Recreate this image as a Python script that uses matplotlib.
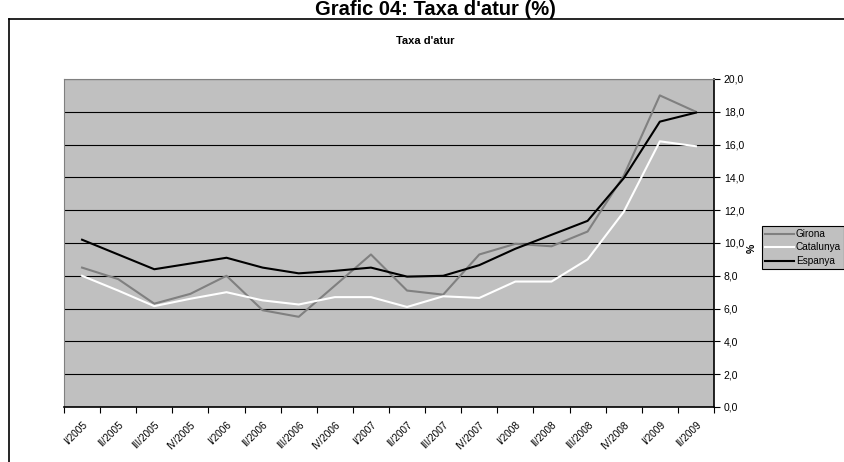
import numpy as np
import matplotlib.pyplot as plt
from matplotlib.lines import Line2D
from matplotlib.ticker import FuncFormatter

plt.rcParams['font.family'] = ['Liberation Sans', 'DejaVu Sans']

# trimestres
trimestres = ['I/2005', 'II/2005', 'III/2005', 'IV/2005',
              'I/2006', 'II/2006', 'III/2006', 'IV/2006',
              'I/2007', 'II/2007', 'III/2007', 'IV/2007',
              'I/2008', 'II/2008', 'III/2008', 'IV/2008',
              'I/2009', 'II/2009']

# taxa d'atur (%)
girona = [8.5, 7.8, 6.3, 6.9, 8.0, 5.9, 5.5, 7.4, 9.3, 7.1, 6.85, 9.3,
          9.95, 9.8, 10.7, 14.1, 19.0, 18.0]
catalunya = [8.0, 7.1, 6.15, 6.6, 7.0, 6.5, 6.25, 6.7, 6.7, 6.1, 6.75, 6.65,
             7.65, 7.65, 9.0, 11.9, 16.2, 15.9]
espanya = [10.2, 9.3, 8.4, 8.75, 9.1, 8.5, 8.15, 8.3, 8.5, 7.95, 8.0, 8.65,
           9.65, 10.5, 11.35, 13.95, 17.4, 17.95]

W, H = 845, 462
fig = plt.figure(figsize=(W / 100, H / 100), dpi=100)

# marc exterior
fig.add_artist(Line2D([9 / W, 1.01], [1 - 19 / H, 1 - 19 / H], color='black', lw=1.2))
fig.add_artist(Line2D([9 / W, 9 / W], [1 - 19 / H, -0.01], color='black', lw=1.2))

fig.text(435 / W, 1 - 15 / H, "Grafic 04: Taxa d'atur (%)", ha='center', va='baseline',
         fontsize=14.5, fontweight='bold')
fig.text(425 / W, 1 - 41 / H, "Taxa d'atur", ha='center', va='center',
         fontsize=8, fontweight='bold')

left, right, top, bottom = 64, 714, 79, 407
ax = fig.add_axes([left / W, 1 - bottom / H, (right - left) / W, (bottom - top) / H])
ax.set_facecolor('#c0c0c0')

x = np.arange(len(trimestres))
ax.plot(x, girona, color='#808080', lw=1.5, label='Girona')
ax.plot(x, catalunya, color='white', lw=1.5, label='Catalunya')
ax.plot(x, espanya, color='black', lw=1.5, label='Espanya')

ax.set_xlim(-0.5, len(trimestres) - 0.5)
ax.set_ylim(0, 20)
ax.set_yticks(np.arange(0, 21, 2))
ax.yaxis.set_major_formatter(FuncFormatter(lambda v, p: ('%.1f' % v).replace('.', ',')))
ax.yaxis.tick_right()
ax.yaxis.set_label_position('right')
ax.set_ylabel('%', fontsize=7.5, fontweight='bold', labelpad=2)
ax.yaxis.set_label_coords(1.051, 0.485)
ax.tick_params(axis='y', direction='out', length=4, width=0.8, labelsize=7.5, pad=3)
ax.grid(axis='y', color='black', lw=0.8)
ax.set_axisbelow(True)

# marques entre categories, etiquetes al centre
ax.set_xticks(np.arange(-0.5, len(trimestres), 1))
ax.set_xticklabels([])
ax.set_xticks(x, minor=True)
ax.set_xticklabels(trimestres, minor=True, rotation=45, ha='right',
                   rotation_mode='anchor', fontsize=7.2)
ax.tick_params(axis='x', which='major', direction='out', length=4, width=0.8)
ax.tick_params(axis='x', which='minor', length=0, pad=9)

ax.spines['top'].set_color('#808080')
ax.spines['left'].set_color('#808080')
ax.spines['right'].set_color('black')
ax.spines['bottom'].set_color('black')
for s in ['right', 'bottom']:
    ax.spines[s].set_linewidth(1.2)

leg = fig.legend(loc='upper left', bbox_to_anchor=(762 / W, 1 - 226 / H), fontsize=7.2,
                 frameon=True, fancybox=False, edgecolor='black', facecolor='#c0c0c0',
                 framealpha=1, handlelength=2.9, handletextpad=0.2, borderpad=0.3,
                 labelspacing=0.35, borderaxespad=0)
leg.get_frame().set_linewidth(0.8)

fig.savefig('out.png', dpi=100)
